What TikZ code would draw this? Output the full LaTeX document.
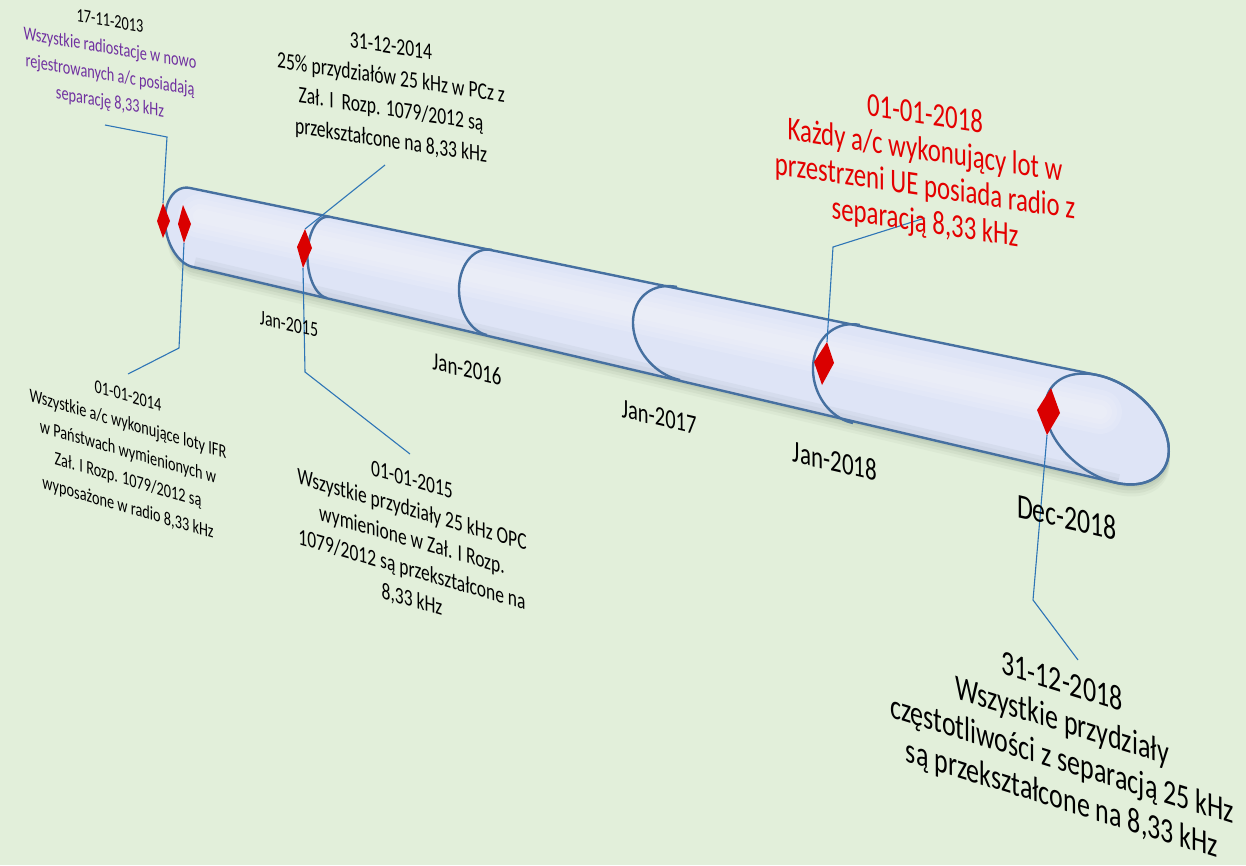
\documentclass[tikz,border=0pt]{standalone}
\usepackage{fontspec}
\setmainfont{Carlito}
\definecolor{bgc}{RGB}{226,239,218}
\definecolor{tubefill}{RGB}{222,228,246}
\definecolor{tubeline}{RGB}{70,112,160}
\definecolor{calloutc}{RGB}{46,117,182}
\definecolor{diac}{RGB}{218,0,0}
\definecolor{purp}{RGB}{112,48,160}
\definecolor{redt}{RGB}{228,0,0}
\definecolor{shad}{RGB}{140,158,135}
\definecolor{bandc}{RGB}{184,192,208}
\newcommand\bodypath{(190,188) -- plot[domain=0:180,samples=40] ({1107-10*cos(\x)+61*sin(\x)},{429-54*cos(\x)+12.6*sin(\x)}) -- plot[domain=180:360,samples=40] ({191.5-1.5*cos(\x)+26.5*sin(\x)},{227.5-39.5*cos(\x)+5.5*sin(\x)}) -- cycle}
\newcommand\tuberingarc[6]{\draw[tubeedge] plot[domain=180:360,samples=40,smooth] ({#1+(#3)*cos(\x)+(#5)*sin(\x)},{#2+(#4)*cos(\x)+(#6)*sin(\x)});}
\begin{document}
\begin{tikzpicture}[x=1pt,y=-1pt,
  txt/.style={align=center,inner sep=0pt,yscale=1.35},
  lbl/.style={inner sep=0pt,yscale=1.35},
  tubeedge/.style={draw=tubeline,line width=2.4pt,line join=round},
  callout/.style={draw=calloutc,line width=1.1pt},
  dia/.style={fill=diac}]
\useasboundingbox (0,0) rectangle (1246,865);
\fill[bgc] (0,0) rectangle (1246,865);

% shadow of the tube
\foreach \s/\o in {12/.08, 9/.11, 6/.15, 3/.15}{\fill[shad,opacity=\o,shift={(1,\s)}] \bodypath;}

% tube body
\fill[tubefill] \bodypath;
\begin{scope}
  \clip \bodypath;
  \foreach \w in {44,34,24,14}{\draw[white,opacity=.12,line width=\w pt,line cap=round] (200,216) -- (1100,412);}
  \foreach \w in {26,18,10}{\draw[bandc,opacity=.22,line width=\w pt] (193,270) -- (1117,487);}
\end{scope}
\draw[tubeedge] \bodypath;
\draw[tubeedge] plot[domain=0:360,samples=90,smooth] ({1107-10*cos(\x)+61*sin(\x)},{429-54*cos(\x)+12.6*sin(\x)});
\tuberingarc{328.5}{257.5}{1.5}{-40.5}{21}{4.3}
\tuberingarc{489.5}{292.5}{2.5}{-42.5}{30.4}{6.3}
\tuberingarc{678.5}{333.5}{-1.5}{-46.5}{45.5}{9.4}
\tuberingarc{856.5}{374}{3.5}{-49}{43.4}{9}

% diamonds
\coordinate (d1t) at (163,203); \coordinate (d1r) at (170,221); \coordinate (d1b) at (163,238); \coordinate (d1l) at (157,221);
\coordinate (d2t) at (183,205); \coordinate (d2r) at (191,224); \coordinate (d2b) at (184,243); \coordinate (d2l) at (178,224);
\coordinate (d3t) at (305,229); \coordinate (d3r) at (312,248); \coordinate (d3b) at (303,268); \coordinate (d3l) at (297,247);
\coordinate (d4t) at (827,342); \coordinate (d4r) at (834,363); \coordinate (d4b) at (822,385); \coordinate (d4l) at (814,362);
\coordinate (d5t) at (1051,388); \coordinate (d5r) at (1060,413); \coordinate (d5b) at (1047,435); \coordinate (d5l) at (1037,410);

% callout bends and ends
\coordinate (c1a) at (167,137); \coordinate (c1e) at (105,125);
\coordinate (c2a) at (179,348); \coordinate (c2e) at (128,374);
\coordinate (c3e) at (385,165);
\coordinate (c4a) at (305,372); \coordinate (c4e) at (410,454);
\coordinate (c5a) at (833,247); \coordinate (c5e) at (925,218);
\coordinate (c6a) at (1033,600); \coordinate (c6e) at (1078,660);

\draw[callout] (d1t) -- (c1a) -- (c1e);
\draw[callout] (d2b) -- (c2a) -- (c2e);
\draw[callout] (d3t) -- (c3e);
\draw[callout] (d3b) -- (c4a) -- (c4e);
\draw[callout] (d4t) -- (c5a) -- (c5e);
\draw[callout] (d5b) -- (c6a) -- (c6e);

\fill[dia] (d1t) -- (d1r) -- (d1b) -- (d1l) -- cycle;
\fill[dia] (d2t) -- (d2r) -- (d2b) -- (d2l) -- cycle;
\fill[dia] (d3t) -- (d3r) -- (d3b) -- (d3l) -- cycle;
\fill[dia] (d4t) -- (d4r) -- (d4b) -- (d4l) -- cycle;
\fill[dia] (d5t) -- (d5r) -- (d5b) -- (d5l) -- cycle;

% axis labels
\node[yslant=-0.23,lbl,font=\fontsize{15.9}{19}\selectfont] (j15) at (289,324) {Jan-2015};
\node[yslant=-0.23,lbl,font=\fontsize{18.9}{22}\selectfont] (j16) at (467,369) {Jan-2016};
\node[yslant=-0.23,lbl,font=\fontsize{20.5}{24}\selectfont] (j17) at (659,417) {Jan-2017};
\node[yslant=-0.23,lbl,font=\fontsize{23}{27}\selectfont] (j18) at (835,461) {Jan-2018};
\node[yslant=-0.23,lbl,font=\fontsize{25.8}{30}\selectfont] (d18) at (1067,517) {Dec-2018};

% text blocks
\node[yslant=-0.17,txt,text=purp,font=\fontsize{14.3}{20}\selectfont] (tA) at (110,63)
  {{\color{black}17-11-2013}\\Wszystkie radiostacje w nowo\\rejestrowanych a/c posiadają\\separację 8,33 kHz};
\node[yslant=-0.15,txt,font=\fontsize{17.6}{23.3}\selectfont] (tB) at (391,95)
  {31-12-2014\\25\% przydziałów 25 kHz w PCz z\\Zał. I\ \ Rozp. 1079/2012 są\\przekształcone na 8,33 kHz};
\node[yslant=-0.15,txt,text=redt,font=\fontsize{24.8}{26.7}\selectfont] (tC) at (925,170)
  {01-01-2018\\Każdy a/c wykonujący lot w\\przestrzeni UE posiada radio z\\separacją 8,33 kHz};
\node[yslant=-0.29,txt,font=\fontsize{14.3}{20.7}\selectfont] (tD) at (128,453)
  {01-01-2014\\Wszystkie a/c wykonujące loty IFR\\w Państwach wymienionych w\\Zał. I Rozp. 1079/2012 są\\wyposażone w radio 8,33 kHz};
\node[yslant=-0.29,txt,font=\fontsize{17.5}{22.2}\selectfont] (tE) at (412,541)
  {01-01-2015\\Wszystkie przydziały 25 kHz OPC\\wymienione w Zał. I Rozp.\\1079/2012 są przekształcone na\\8,33 kHz};
\node[yslant=-0.31,txt,font=\fontsize{26}{28.9}\selectfont] (tF) at (1062,742)
  {31-12-2018\\Wszystkie przydziały\\częstotliwości z separacją 25 kHz\\są przekształcone na 8,33 kHz};
\end{tikzpicture}
\end{document}
